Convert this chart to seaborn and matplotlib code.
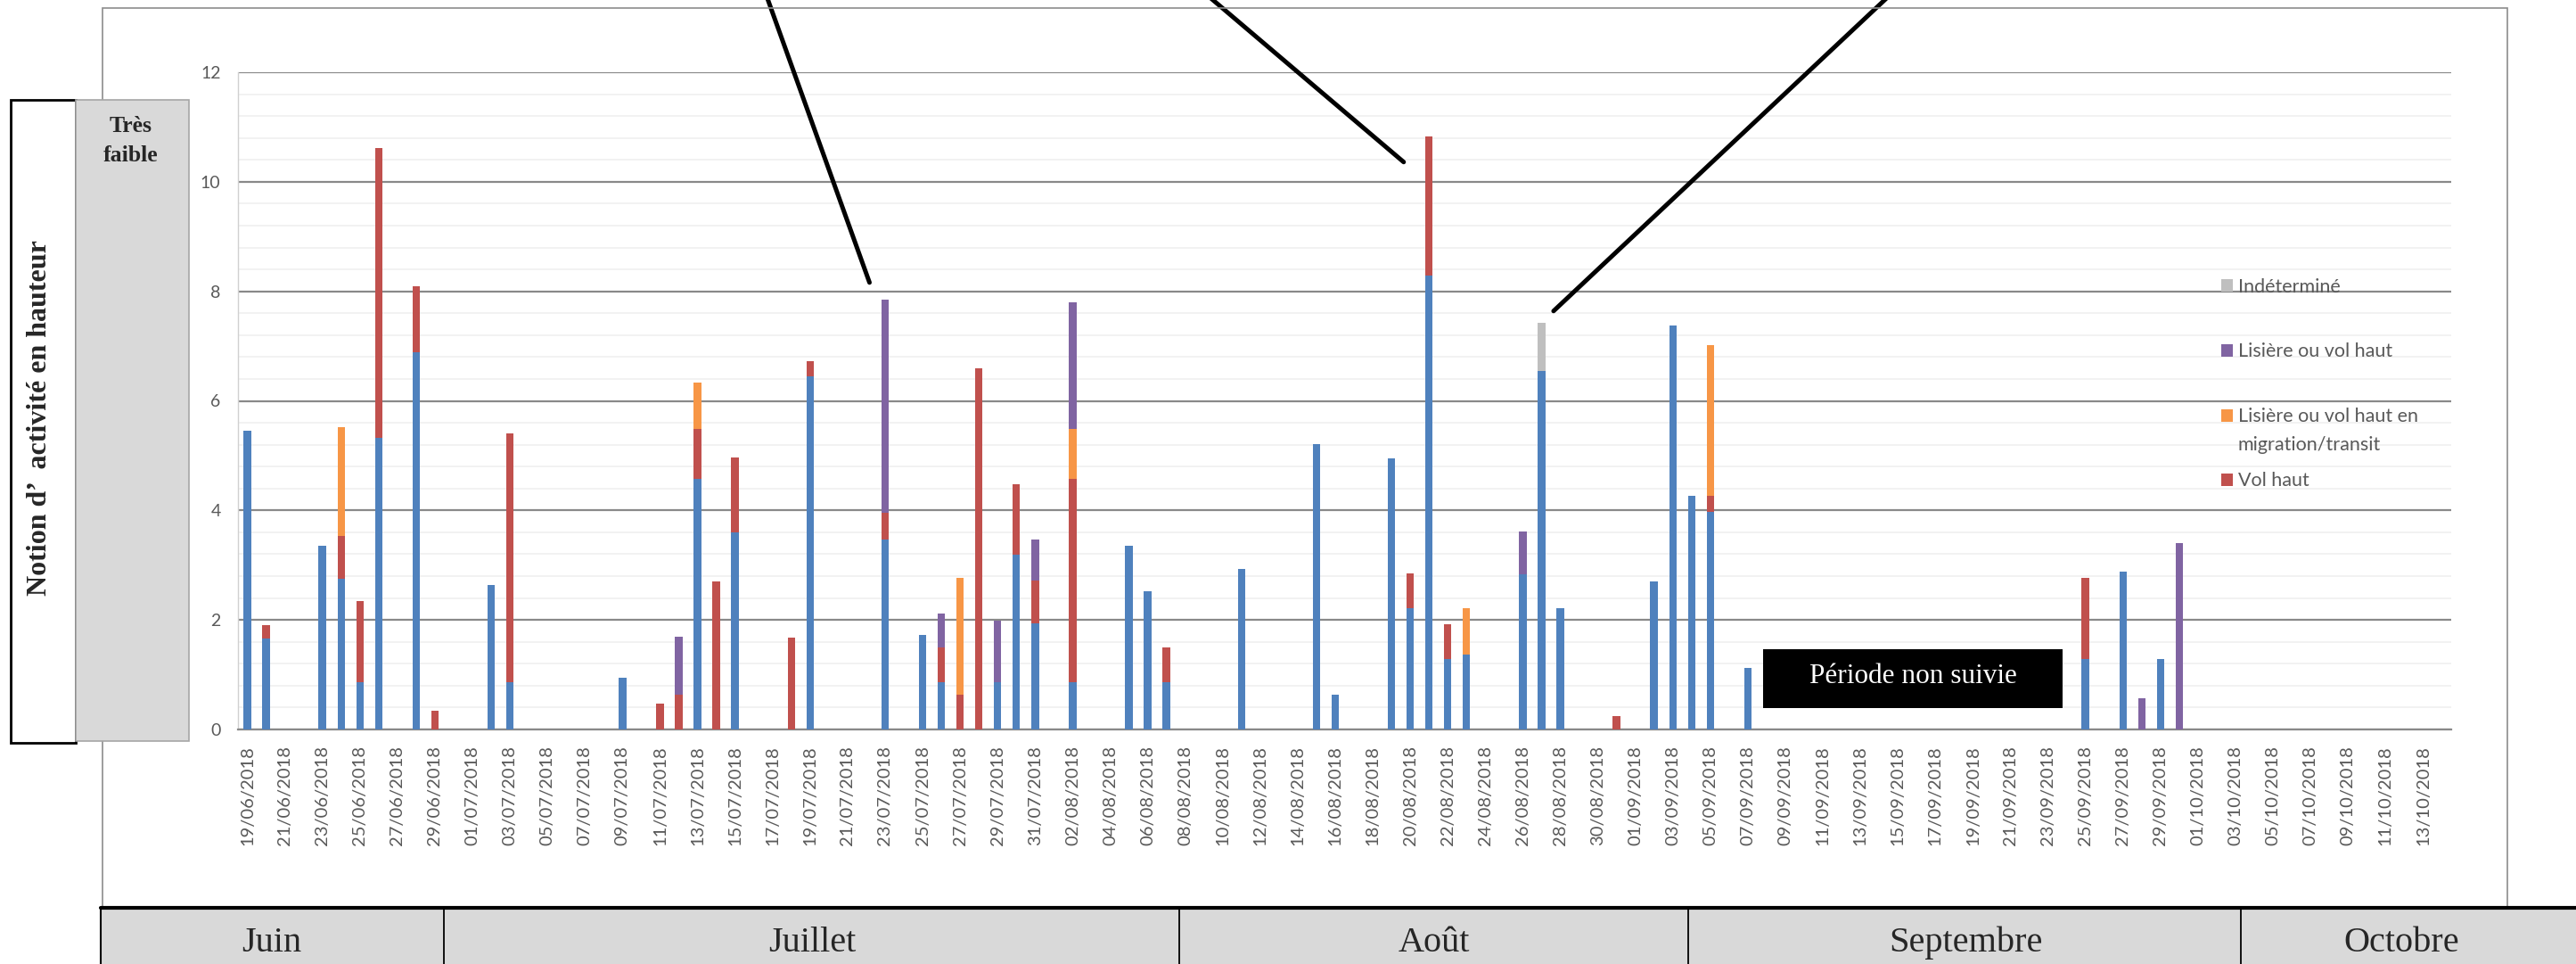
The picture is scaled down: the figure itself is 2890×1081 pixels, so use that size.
import numpy as np
import pandas as pd
import matplotlib
matplotlib.use("Agg")
import matplotlib.pyplot as plt
import seaborn as sns
from matplotlib.patches import Rectangle
from matplotlib.lines import Line2D
from matplotlib.ticker import MultipleLocator

# ---------------- data ----------------
dates = pd.date_range("2018-06-19", "2018-10-14", freq="D")
date_labels = [d.strftime("%d/%m/%Y") for d in dates]
day_keys = [d.strftime("%d/%m") for d in dates]

series_names = ["Activité basse", "Vol haut", "Lisière ou vol haut en\nmigration/transit",
                "Lisière ou vol haut", "Indéterminé"]

activite_basse = {  # blue (bottom of stack)
    "19/06": 5.45, "20/06": 1.66, "23/06": 3.35, "24/06": 2.75, "25/06": 0.86,
    "26/06": 5.33, "28/06": 6.88, "02/07": 2.64, "03/07": 0.86, "09/07": 0.95,
    "13/07": 4.57, "15/07": 3.60, "19/07": 6.44, "23/07": 3.46, "25/07": 1.72,
    "26/07": 0.86, "29/07": 0.86, "30/07": 3.19, "31/07": 1.94, "02/08": 0.86,
    "05/08": 3.35, "06/08": 2.52, "07/08": 0.86, "11/08": 2.93, "15/08": 5.21,
    "16/08": 0.63, "19/08": 4.95, "20/08": 2.22, "21/08": 8.28, "22/08": 1.29,
    "23/08": 1.36, "26/08": 2.83, "27/08": 6.55, "28/08": 2.22, "02/09": 2.71,
    "03/09": 7.37, "04/09": 4.26, "05/09": 3.98, "07/09": 1.12, "25/09": 1.29,
    "27/09": 2.88, "29/09": 1.29,
}
vol_haut = {  # red
    "20/06": 0.24, "24/06": 0.78, "25/06": 1.48, "26/06": 5.28, "28/06": 1.22,
    "29/06": 0.34, "03/07": 4.54, "11/07": 0.47, "12/07": 0.63, "13/07": 0.92,
    "14/07": 2.71, "15/07": 1.36, "18/07": 1.67, "19/07": 0.28, "23/07": 0.50,
    "26/07": 0.63, "27/07": 0.63, "28/07": 6.59, "30/07": 1.28, "31/07": 0.78,
    "02/08": 3.71, "07/08": 0.63, "20/08": 0.63, "21/08": 2.55, "22/08": 0.63,
    "31/08": 0.24, "05/09": 0.29, "25/09": 1.47,
}
lisiere_migration = {  # orange
    "24/06": 1.99, "13/07": 0.85, "27/07": 2.13, "02/08": 0.92, "23/08": 0.86,
    "05/09": 2.74,
}
lisiere = {  # purple
    "12/07": 1.07, "23/07": 3.88, "26/07": 0.63, "29/07": 1.12, "31/07": 0.74,
    "02/08": 2.31, "26/08": 0.79, "28/09": 0.57, "30/09": 3.41,
}
indetermine = {  # grey (top of stack)
    "27/08": 0.87,
}

colors = ["#4F81BD", "#C0504D", "#F79646", "#8064A2", "#BFBFBF"]
months = ["Juin", "Juillet", "Août", "Septembre", "Octobre"]

# ---------------- style ----------------
sns.set_theme(style="white")
plt.rcParams["font.family"] = ["Lato", "DejaVu Sans"]
SERIF = ["Liberation Serif", "DejaVu Serif"]
TXT = "#595959"

W, H = 2890, 1081
def fx(px):
    return px / W
def fy(py):
    return 1 - py / H

df = pd.DataFrame({"date": date_labels})
for name, d in zip(series_names, [activite_basse, vol_haut, lisiere_migration, lisiere, indetermine]):
    df[name] = [d.get(k, 0.0) for k in day_keys]
cum = df[series_names].cumsum(axis=1)

fig = plt.figure(figsize=(W / 100, H / 100), dpi=100)
fig.patch.set_facecolor("white")
ax = fig.add_axes([fx(267), fy(818), (2750 - 267) / W, (818 - 81) / H])

# stacked bars: draw cumulative totals from top layer down
for name, col in reversed(list(zip(series_names, colors))):
    sns.barplot(data=cum.assign(date=date_labels), x="date", y=name, order=date_labels,
                color=col, saturation=1, width=0.4, linewidth=0, errorbar=None, ax=ax, zorder=3)

n = len(date_labels)
ax.set_xlim(-0.5, n - 0.5)
ax.set_ylim(0, 12)
ax.set_xlabel("")
ax.set_ylabel("")

# y axis
ax.set_yticks(np.arange(0, 13, 2))
ax.set_yticklabels([str(v) for v in range(0, 13, 2)])
ax.yaxis.set_minor_locator(MultipleLocator(0.4))
ax.tick_params(axis="y", which="both", length=0, pad=14, labelsize=14, labelcolor=TXT)
ax.grid(False)
ax.yaxis.grid(True, which="major", color="#898989", lw=1.6, zorder=1)
ax.yaxis.grid(True, which="minor", color="#f0f0f0", lw=1.2, zorder=0)
ax.set_axisbelow(True)

# x axis
ax.set_xticks(np.arange(-0.5, n, 2))
ax.set_xticklabels([])
ax.set_xticks(np.arange(0, n, 2), minor=True)
ax.set_xticklabels(date_labels[::2], minor=True, rotation=90)
ax.tick_params(axis="x", which="major", length=7, width=1.2, color="#898989", direction="out")
ax.tick_params(axis="x", which="minor", length=0, pad=13, labelsize=14.5, labelcolor=TXT)

for s in ["top", "right"]:
    ax.spines[s].set_visible(False)
ax.spines["left"].set_color("#d0d0d0")
ax.spines["left"].set_linewidth(1)
ax.spines["bottom"].set_color("#898989")
ax.spines["bottom"].set_linewidth(1.6)

# "Période non suivie" box
ax.add_patch(Rectangle((80.81, 0.39), 15.98, 1.08, facecolor="black", edgecolor="none", zorder=4))
ax.text((80.81 + 96.79) / 2, 0.84, "Période non suivie", color="white", family=SERIF,
        fontsize=22.5, ha="center", va="baseline", zorder=5)

# legend (manual, Excel-like)
leg = [("Indéterminé", colors[4], 320, 327.7),
       ("Lisière ou vol haut", colors[3], 393, 399.8),
       ("Lisière ou vol haut en", colors[2], 466, 473),
       ("migration/transit", None, None, 505),
       ("Vol haut", colors[1], 538, 545)]
for label, col, my, by in leg:
    if col is not None:
        fig.patches.append(Rectangle((fx(2492), fy(my + 7)), 13 / W, 14 / H, transform=fig.transFigure,
                                     facecolor=col, edgecolor="none", zorder=6))
    fig.text(fx(2511), fy(by), label, color=TXT, fontsize=15.5, ha="left", va="baseline", zorder=6)

# callout lines from above
callouts = [((33.17, 8.16), 858), ((61.65, 10.36), 1349), ((69.64, 7.64), 2125)]
for xy, px in callouts:
    ax.annotate("", xy=xy, xycoords="data", xytext=(fx(px), fy(-10)), textcoords="figure fraction",
                arrowprops=dict(arrowstyle="-", lw=3.6, color="black", shrinkA=0, shrinkB=0),
                annotation_clip=False, zorder=7)

# chart frame
fig.patches.append(Rectangle((fx(115), fy(1018)), (2813 - 115) / W, (1018 - 9) / H,
                             transform=fig.transFigure, fill=False, edgecolor="#8c8c8c", lw=1.2, zorder=0))

# left side boxes
fig.patches.append(Rectangle((fx(12), fy(833)), (85 - 12) / W, (833 - 112) / H, transform=fig.transFigure,
                             facecolor="white", edgecolor="black", lw=2, zorder=2))
fig.patches.append(Rectangle((fx(85), fy(831)), (212 - 85) / W, (831 - 112) / H, transform=fig.transFigure,
                             facecolor="#d9d9d9", edgecolor="#a6a6a6", lw=1.2, zorder=2))
fig.text(fx(45), fy(469), "Notion d\u2019  activité en hauteur", rotation=90, family=SERIF, weight="bold",
         fontsize=23, ha="center", va="center", zorder=3)
fig.text(fx(147), fy(148), "Très", family=SERIF, weight="bold", fontsize=18.5, ha="center", va="baseline", zorder=3)
fig.text(fx(147), fy(181), "faible", family=SERIF, weight="bold", fontsize=18.5, ha="center", va="baseline", zorder=3)

# month table
edges = [113, 498, 1323, 1894, 2514, 2900]
centers = [305, 911, 1609, 2205, 2694]
fig.patches.append(Rectangle((fx(113), fy(1095)), (2900 - 113) / W, (1095 - 1018) / H, transform=fig.transFigure,
                             facecolor="#d9d9d9", edgecolor="black", lw=1.5, zorder=2))
fig.lines.append(Line2D([fx(113), 1.0], [fy(1018), fy(1018)], transform=fig.transFigure,
                        color="black", lw=3, zorder=3))
for e in edges[1:-1]:
    fig.lines.append(Line2D([fx(e), fx(e)], [fy(1018), 0], transform=fig.transFigure,
                            color="black", lw=1.3, zorder=3))
for m, c in zip(months, centers):
    fig.text(fx(c), fy(1067), m, family=SERIF, fontsize=29, ha="center", va="baseline", zorder=4)

fig.savefig("out.png", dpi=100)
